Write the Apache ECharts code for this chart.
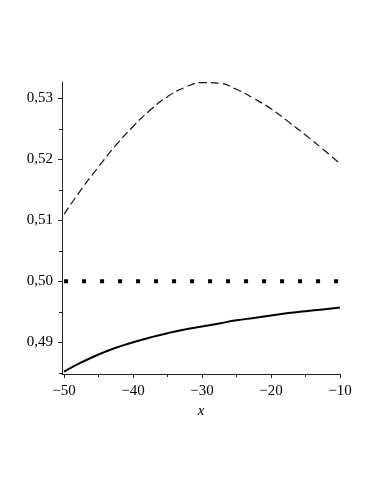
<!DOCTYPE html>
<html>
<head>
<meta charset="utf-8">
<script src="https://cdn.jsdelivr.net/npm/echarts@6/dist/echarts.min.js"></script>
<style>html,body{margin:0;padding:0;background:#fff;}#c{width:382px;height:494px;}</style>
</head>
<body>
<div id="c"></div>
<script>
var xValues = [-50, -47.5, -45, -42.5, -40, -37.5, -35, -32.5, -30, -27.5, -25, -22.5, -20, -17.5, -15, -12.5, -10];
var dashedValues = [0.5110, 0.5151, 0.5188, 0.5223, 0.5254, 0.5281, 0.5303, 0.5318, 0.5326, 0.5325, 0.5315, 0.5300, 0.5283, 0.5262, 0.5240, 0.5217, 0.5193];
var solidValues = [0.4852, 0.4867, 0.4880, 0.4891, 0.4900, 0.4908, 0.4915, 0.4921, 0.4926, 0.4931, 0.4936, 0.4940, 0.4944, 0.4948, 0.4951, 0.4954, 0.4957];
var dottedValues = [0.5, 0.5];
var dottedX = [-50, -10];
var yMajorTicks = [0.49, 0.50, 0.51, 0.52, 0.53];
var yMinorTicks = [0.485, 0.495, 0.505, 0.515, 0.525];
var xMajorTicks = [-50, -40, -30, -20, -10];
var xMinorTicks = [-45, -35, -25, -15];

function pairs(xs, ys) { return xs.map(function (x, i) { return [x, ys[i]]; }); }

var font = '"Liberation Serif", "DejaVu Serif", serif';
var yMin = 0.4848, yMax = 0.5327, xMin = -50.3, xMax = -10;
var axisCol = '#222';

var chart = echarts.init(document.getElementById('c'));
chart.setOption({
  animation: false,
  grid: { left: 62, right: 42, top: 82, bottom: 120 },
  xAxis: [
    {
      type: 'value', min: xMin, max: xMax,
      axisLine: { onZero: false, lineStyle: { color: axisCol, width: 1 } },
      axisTick: { show: true, length: 4, customValues: xMajorTicks, lineStyle: { color: axisCol } },
      axisLabel: { customValues: xMajorTicks, margin: 10, color: '#000', fontFamily: font, fontSize: 15,
        formatter: function (v) { return String(v).replace('-', '\u2212'); } },
      splitLine: { show: false },
      name: 'x', nameLocation: 'middle', nameGap: 29,
      nameTextStyle: { color: '#000', fontFamily: font, fontSize: 15, fontStyle: 'italic' }
    },
    {
      type: 'value', min: xMin, max: xMax, position: 'bottom',
      axisLine: { show: false },
      axisTick: { show: true, length: 3, customValues: xMinorTicks, lineStyle: { color: axisCol } },
      axisLabel: { show: false },
      splitLine: { show: false }
    }
  ],
  yAxis: [
    {
      type: 'value', min: yMin, max: yMax,
      axisLine: { show: true, onZero: false, lineStyle: { color: axisCol, width: 1 } },
      axisTick: { show: true, length: 4, customValues: yMajorTicks, lineStyle: { color: axisCol } },
      axisLabel: { customValues: yMajorTicks, margin: 9, color: '#000', fontFamily: font, fontSize: 15,
        formatter: function (v) { return v.toFixed(2).replace('.', ','); } },
      splitLine: { show: false }
    },
    {
      type: 'value', min: yMin, max: yMax, position: 'left',
      axisLine: { show: false },
      axisTick: { show: true, length: 3, customValues: yMinorTicks, lineStyle: { color: axisCol } },
      axisLabel: { show: false },
      splitLine: { show: false }
    }
  ],
  series: [
    {
      type: 'line', data: pairs(xValues, dashedValues), smooth: 0.5, symbol: 'none',
      lineStyle: { color: '#111', width: 1.2, type: [8, 4] }
    },
    {
      type: 'line', data: pairs(dottedX, dottedValues), symbol: 'none',
      lineStyle: { color: '#000', width: 4, type: [4, 14], cap: 'butt' }
    },
    {
      type: 'line', data: pairs(xValues, solidValues), smooth: 0.5, symbol: 'none',
      lineStyle: { color: '#000', width: 2 }
    }
  ]
});
</script>
</body>
</html>
